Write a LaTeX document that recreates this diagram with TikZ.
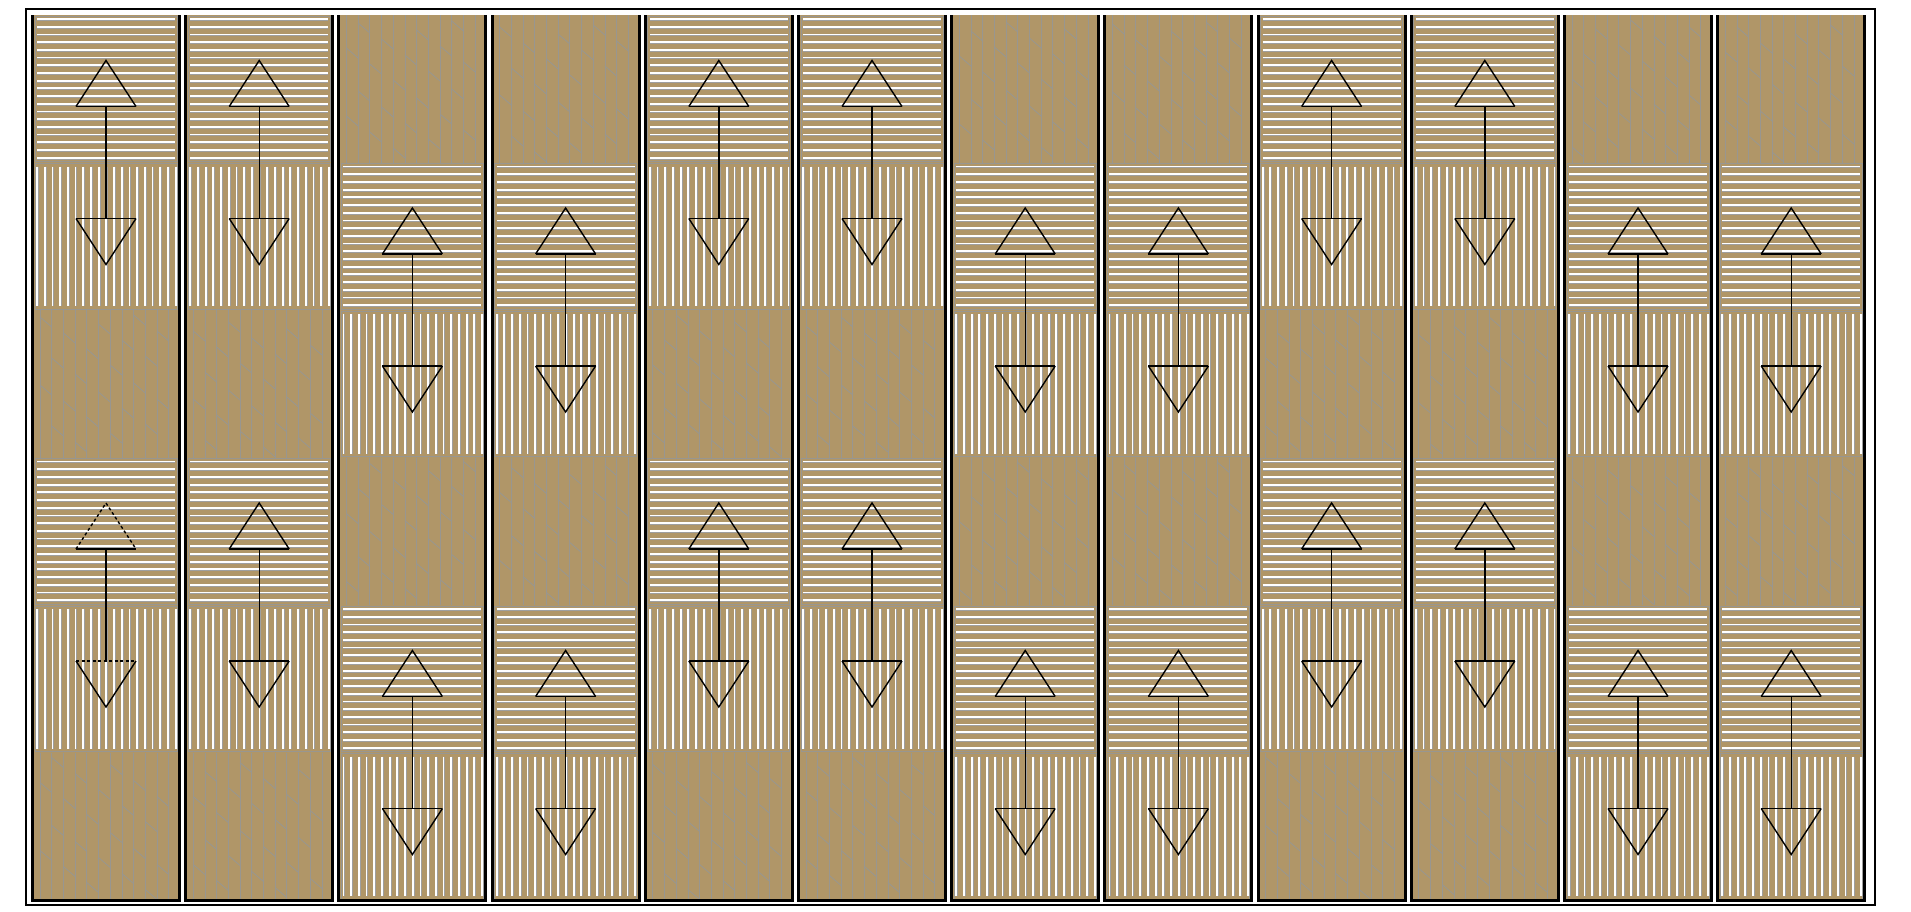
\documentclass[tikz,border=0pt]{standalone}
\usepackage{xcolor}
\usepackage{tikz}

\definecolor{woodbrown}{RGB}{176,150,104}
\definecolor{grainclr}{RGB}{152,150,144}

% plain wood band: #1 left x, #2 top y, #3 seed for the grain ticks
\newcommand{\woodband}[3]{%
  \fill[woodbrown] ({#1},{#2}) rectangle ++(144,147.5);
  \foreach \k in {0,...,11}
    \draw[grain] ({#1+6+11.7*\k},{#2}) -- ++(0,147.5);
  \foreach \k in {0,...,10} {
    \pgfmathsetmacro{\ta}{mod(41*\k+#3,66)+4}
    \draw[grain] ({#1+6+11.7*\k},{#2+\ta}) -- ++(11.7,10);
    \draw[grain] ({#1+6+11.7*\k},{#2+\ta+68}) -- ++(11.7,10);
  }
}
% band with horizontal hatching
\newcommand{\hband}[2]{%
  \fill[woodbrown] ({#1},{#2}) rectangle ++(144,147.5);
  \draw[grain] ({#1+1},{#2+1}) rectangle ++(142,145.5);
  \foreach \k in {0,...,18} {
    \draw[hatchgray] ({#1+3},{#2+5.2+7.7*\k}) -- ++(138,0);
    \draw[hatch] ({#1+3},{#2+4+7.7*\k}) -- ++(138,0);
  }
}
% band with vertical hatching
\newcommand{\vband}[2]{%
  \fill[woodbrown] ({#1},{#2}) rectangle ++(144,147.5);
  \draw[grain] ({#1+1},{#2+1}) rectangle ++(142,145.5);
  \foreach \k in {0,...,18} {
    \draw[hatchgray] ({#1+4.2+7.7*\k},{#2+4}) -- ++(0,139.5);
    \draw[hatch] ({#1+3+7.7*\k},{#2+4}) -- ++(0,139.5);
  }
}
% column frame
\newcommand{\colframe}[1]{%
  \draw[colline] ({#1},15) -- ({#1},900) -- ({#1+147},900) -- ({#1+147},15);
}
% column starting with hatching
\newcommand{\colA}[2]{%
  \hband{#1+1.5}{15}
  \vband{#1+1.5}{162.5}
  \woodband{#1+1.5}{310}{#2}
  \hband{#1+1.5}{457.5}
  \vband{#1+1.5}{605}
  \woodband{#1+1.5}{752.5}{#2+23}
  \colframe{#1}
}
% column starting with wood
\newcommand{\colB}[2]{%
  \woodband{#1+1.5}{15}{#2}
  \hband{#1+1.5}{162.5}
  \vband{#1+1.5}{310}
  \woodband{#1+1.5}{457.5}{#2+23}
  \hband{#1+1.5}{605}
  \vband{#1+1.5}{752.5}
  \colframe{#1}
}
% double arrow with open heads: #1 x, #2 band boundary y, #3 name, #4 line style of marked edges
\newcommand{\updown}[4]{%
  \coordinate (#3-up) at ({#1},{#2-56});
  \coordinate (#3-dn) at ({#1},{#2+56});
  \draw[tri] (#3-up) ++(-30,0) -- ++(60,0);
  \draw[tri,#4] (#3-up) ++(-30,0) -- ++(30,-46) -- ++(30,46);
  \draw[tri] (#3-dn) ++(-30,0) -- ++(30,46) -- ++(30,-46);
  \draw[tri,#4] (#3-dn) ++(-30,0) -- ++(60,0);
  \draw[shaft] (#3-up) -- (#3-dn);
}

\begin{document}
\begin{tikzpicture}[x=1pt, y=-1pt,
    hatch/.style={white, line width=1.8pt},
    hatchgray/.style={gray!75, line width=0.5pt},
    grain/.style={grainclr, line width=0.8pt},
    colline/.style={black, line width=3pt},
    outer/.style={black, line width=2.5pt},
    tri/.style={black, line width=1.4pt, line join=miter},
    shaft/.style={black, line width=1.4pt},
    dashedge/.style={dash pattern=on 3pt off 2.5pt}]

    \useasboundingbox (0,0) rectangle (1911,911);

    % Outer frame
    \draw[outer] (26,9) rectangle (1875,905);

    % Columns, left to right
    \colA{32.5}{3}
    \colA{185.7}{17}
    \colB{338.9}{29}
    \colB{492.1}{8}
    \colA{645.3}{51}
    \colA{798.5}{12}
    \colB{951.7}{37}
    \colB{1104.9}{5}
    \colA{1258.1}{44}
    \colA{1411.3}{21}
    \colB{1564.5}{60}
    \colB{1717.7}{33}

    % Arrows, upper pair of bands
    \updown{106}{162.5}{a1}{solid}
    \updown{259.2}{162.5}{a2}{solid}
    \updown{412.4}{310}{a3}{solid}
    \updown{565.6}{310}{a4}{solid}
    \updown{718.8}{162.5}{a5}{solid}
    \updown{872}{162.5}{a6}{solid}
    \updown{1025.2}{310}{a7}{solid}
    \updown{1178.4}{310}{a8}{solid}
    \updown{1331.6}{162.5}{a9}{solid}
    \updown{1484.8}{162.5}{a10}{solid}
    \updown{1638}{310}{a11}{solid}
    \updown{1791.2}{310}{a12}{solid}

    % Arrows, lower pair of bands
    \updown{106}{605}{b1}{dashedge}
    \updown{259.2}{605}{b2}{solid}
    \updown{412.4}{752.5}{b3}{solid}
    \updown{565.6}{752.5}{b4}{solid}
    \updown{718.8}{605}{b5}{solid}
    \updown{872}{605}{b6}{solid}
    \updown{1025.2}{752.5}{b7}{solid}
    \updown{1178.4}{752.5}{b8}{solid}
    \updown{1331.6}{605}{b9}{solid}
    \updown{1484.8}{605}{b10}{solid}
    \updown{1638}{752.5}{b11}{solid}
    \updown{1791.2}{752.5}{b12}{solid}
\end{tikzpicture}
\end{document}
